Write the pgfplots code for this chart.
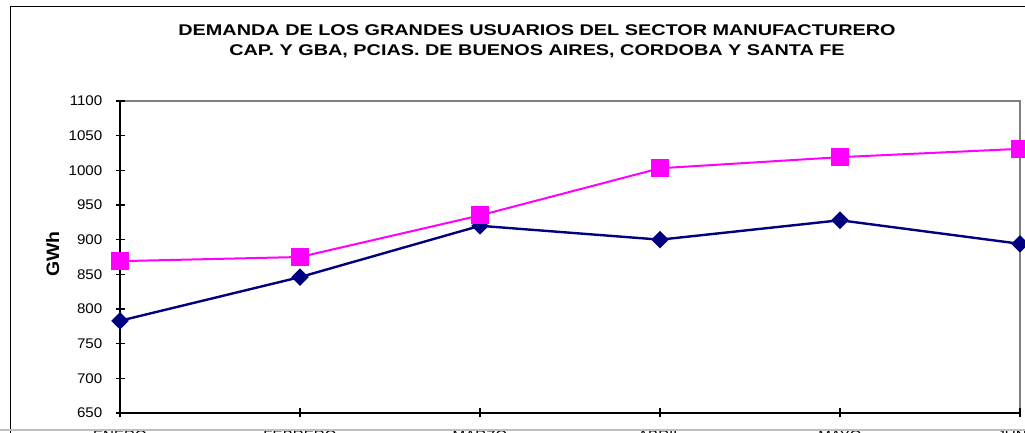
\documentclass[border=0pt]{standalone}
\usepackage{pgfplots}
\pgfplotsset{compat=1.18}
\usepackage{fontspec}
\setmainfont{Liberation Sans}[FakeStretch=1.08]
\newfontfamily\titlefont{Liberation Sans Bold}[FakeStretch=1.28]
\definecolor{serieA}{RGB}{0,0,128}
\definecolor{serieB}{RGB}{255,0,255}
\definecolor{marco}{RGB}{128,128,128}
\begin{document}
\begin{tikzpicture}[x=1pt,y=1pt]
\useasboundingbox (0,0) rectangle (1025,433);
\clip (0,0) rectangle (1025,433);
\begin{axis}[
  at={(120pt,20pt)}, anchor=south west,
  scale only axis, width=900pt, height=312pt,
  xmin=0, xmax=5, ymin=650, ymax=1100,
  xtick={0,1,2,3,4,5},
  xticklabels={ENERO,FEBRERO,MARZO,ABRIL,MAYO,JUNIO},
  ytick={650,700,...,1100},
  axis x line*=bottom, axis y line*=left,
  axis line style={black, line width=1.3pt, -},
  axis background/.style={draw=marco, line width=2pt},
  tick align=center, major tick length=9pt,
  tick style={black, line width=1.1pt},
  /pgf/number format/assume math mode=true,
  /pgf/number format/1000 sep={},
  ticklabel style={font=\fontsize{14}{16}\selectfont, inner sep=0pt},
  yticklabel style={anchor=east, xshift=-13pt},
  xticklabel style={anchor=north, yshift=-13pt},
  clip=false,
]
\addplot[serieA, line width=2.4pt, mark=square*, mark size=5pt,
  mark options={rotate=45, draw=none, fill=serieA}] coordinates {
  (0,783)(1,846)(2,920)(3,900)(4,928)(5,894)};
\addplot[serieB, line width=2pt, mark=square*, mark size=8pt,
  mark options={draw=none, fill=serieB}] coordinates {
  (0,869)(1,875)(2,935)(3,1003)(4,1019)(5,1031)};
\end{axis}
\node[anchor=base, font=\titlefont\fontsize{15.5}{18}\selectfont]
  at (537,397) {DEMANDA DE LOS GRANDES USUARIOS DEL SECTOR MANUFACTURERO};
\node[anchor=base, font=\titlefont\fontsize{15.5}{18}\selectfont]
  at (537,377) {CAP. Y GBA, PCIAS. DE BUENOS AIRES, CORDOBA Y SANTA FE};
\node[anchor=base, rotate=90, font=\bfseries\fontsize{18}{20}\selectfont]
  at (59,179) {GWh};
\draw[black, line width=1pt] (10,0) -- (10,426) -- (1025,426);
\draw[black!25, line width=1.5pt] (0,3) -- (1025,3);
\end{tikzpicture}
\end{document}
